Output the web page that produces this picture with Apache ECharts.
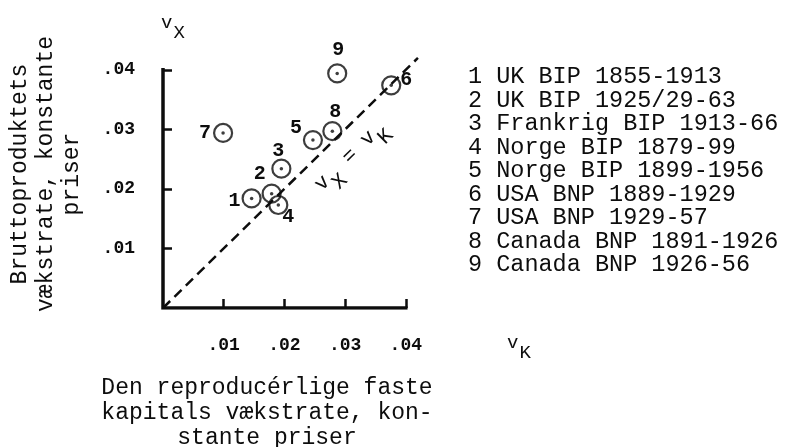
<!DOCTYPE html>
<html>
<head>
<meta charset="utf-8">
<script src="https://cdn.jsdelivr.net/npm/echarts@6/dist/echarts.min.js"></script>
<style>
  html, body { margin: 0; padding: 0; background: #ffffff; }
  #chart { width: 800px; height: 447px; }
</style>
</head>
<body>
<div id="chart"></div>
<script>
// Growth of reproducible fixed capital (vK) against growth of output (vX)
const pointIds = ['1', '2', '3', '4', '5', '6', '7', '8', '9'];
const seriesNames = [
  'UK BIP 1855-1913',
  'UK BIP 1925/29-63',
  'Frankrig BIP 1913-66',
  'Norge BIP 1879-99',
  'Norge BIP 1899-1956',
  'USA BNP 1889-1929',
  'USA BNP 1929-57',
  'Canada BNP 1891-1926',
  'Canada BNP 1926-56'
];
const capitalGrowth = [0.0146, 0.0179, 0.0195, 0.0190, 0.0247, 0.0376, 0.0099, 0.0279, 0.0287];
const outputGrowth  = [0.0184, 0.0192, 0.0234, 0.0173, 0.0282, 0.0374, 0.0294, 0.0297, 0.0394];
const tickValues = [0.01, 0.02, 0.03, 0.04];
const tickLabels = ['.01', '.02', '.03', '.04'];
const diagonalEnd = 0.042;

// where each point's number sits relative to its circle (px)
const labelOffsets = [[-17, 3], [-12, -20], [-3, -18], [10, 12], [-17, -12], [15, -5], [-18, 0], [3, -19], [1, -23]];

const FONT = "'Liberation Mono', 'DejaVu Sans Mono', monospace";
const INK = '#0d0d0d';

const tickName = v => {
  let best = 0;
  tickValues.forEach((t, i) => { if (Math.abs(t - v) < Math.abs(tickValues[best] - v)) best = i; });
  return Math.abs(tickValues[best] - v) < 1e-6 ? tickLabels[best] : '';
};

const points = capitalGrowth.map((k, i) => [k, outputGrowth[i]]);
const lastTick = tickValues[tickValues.length - 1];

const axisCommon = {
  type: 'value',
  min: 0,
  max: 0.043,
  axisLine: { show: false },
  splitLine: { show: false },
  axisTick: {
    show: true,
    inside: true,
    length: 9,
    customValues: tickValues,
    lineStyle: { color: INK, width: 2.5 }
  },
  axisLabel: {
    customValues: tickValues,
    formatter: tickName,
    margin: 28,
    fontFamily: FONT,
    fontSize: 18,
    fontWeight: 'bold',
    color: INK
  }
};

const subscriptRich = size => ({
  m: { fontFamily: FONT, fontSize: size, lineHeight: size - 2, verticalAlign: 'top', color: INK, fill: INK },
  s: { fontFamily: FONT, fontSize: size, lineHeight: size - 2, padding: [Math.round(size * 0.5), 0, 0, 1], verticalAlign: 'top', color: INK, fill: INK }
});

const chart = echarts.init(document.getElementById('chart'), null, { renderer: 'canvas' });

chart.setOption({
  animation: false,
  backgroundColor: '#ffffff',
  grid: {
    left: 163, top: 52, width: 261, height: 256,
    containLabel: false,
    outerBoundsMode: 'none'
  },
  xAxis: axisCommon,
  yAxis: axisCommon,
  graphic: [
    {
      // axis symbols
      type: 'text', left: 161, top: 13,
      style: { text: '{m|v}{s|X}', rich: subscriptRich(19) }
    },
    {
      type: 'text', left: 507, top: 333,
      style: { text: '{m|v}{s|K}', rich: subscriptRich(19) }
    },
    {
      // vertical axis title
      type: 'text', x: 46, y: 174, rotation: Math.PI / 2,
      style: {
        text: 'Bruttoproduktets\nvækstrate, konstante\npriser',
        fontFamily: FONT, fontSize: 23, lineHeight: 26,
        align: 'center', verticalAlign: 'middle', fill: INK
      }
    },
    {
      // horizontal axis title
      type: 'text', x: 267, y: 413,
      style: {
        text: 'Den reproducérlige faste\nkapitals vækstrate, kon-\nstante priser',
        fontFamily: FONT, fontSize: 23, lineHeight: 25,
        align: 'center', verticalAlign: 'middle', fill: INK
      }
    },
    {
      // key to the numbered points
      type: 'text', left: 468, top: 65,
      style: {
        text: pointIds.map((id, i) => id + ' ' + seriesNames[i]).join('\n'),
        fontFamily: FONT, fontSize: 23.5, lineHeight: 23.5,
        fill: INK
      }
    }
  ],
  series: [
    {
      // axis frame, ending at the last tick
      type: 'line',
      silent: true,
      symbol: 'none',
      data: [[0, lastTick], [0, 0], [lastTick, 0]],
      lineStyle: { color: INK, width: 3.5, cap: 'square', join: 'miter' },
      z: 3
    },
    {
      type: 'scatter',
      name: 'punkter',
      symbol: 'circle',
      symbolSize: 18,
      data: points.map((p, i) => ({
        value: p,
        label: { offset: labelOffsets[i] }
      })),
      itemStyle: { color: 'rgba(0,0,0,0)', borderColor: INK, borderWidth: 2.2 },
      label: {
        show: true,
        position: 'inside',
        formatter: p => pointIds[p.dataIndex],
        fontFamily: FONT,
        fontSize: 20,
        fontWeight: 'bold',
        color: INK,
        opacity: 1,
        textBorderWidth: 0
      },
      markLine: {
        silent: true,
        symbol: ['none', 'none'],
        lineStyle: { color: INK, width: 2.5, type: [10, 6] },
        label: {
          show: true,
          position: 'insideEndBottom',
          distance: [72, 12],
          formatter: '{m|v}{s|X}{m| = v}{s|K}',
          rich: subscriptRich(21)
        },
        data: [[{ coord: [0, 0] }, { coord: [diagonalEnd, diagonalEnd] }]]
      },
      z: 4
    },
    {
      // centre dots
      type: 'scatter',
      silent: true,
      symbol: 'circle',
      symbolSize: 3.5,
      data: points,
      itemStyle: { color: INK },
      z: 5
    }
  ]
});
</script>
</body>
</html>
